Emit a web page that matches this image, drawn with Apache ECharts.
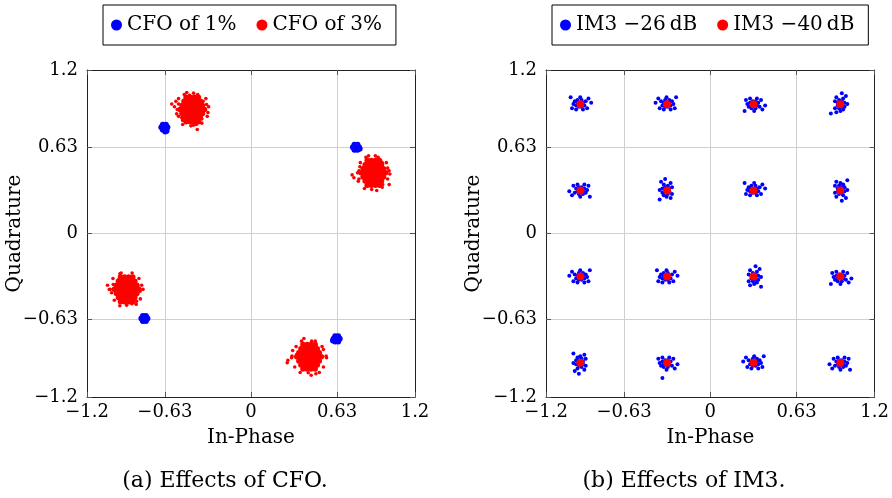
<!DOCTYPE html>
<html><head><meta charset="utf-8">
<script src="https://cdn.jsdelivr.net/npm/echarts@6/dist/echarts.min.js"></script>
<style>html,body{margin:0;padding:0;background:#fff}#c{width:892px;height:498px}</style>
</head><body><div id="c"></div>
<script>
const axisTicks = [-1.2, -0.63, 0, 0.63, 1.2];
const seriesNames = ['CFO of 1%', 'CFO of 3%', 'IM3 \u221226\u2009dB', 'IM3 \u221240\u2009dB'];
const captions = ['(a) Effects of CFO.', '(b) Effects of IM3.'];
const axisNames = ['In-Phase', 'Quadrature'];

// (a) CFO of 1% : tight clusters
const cfo1 = [
 [-0.634,0.780],[-0.612,0.780],[-0.656,0.780],[-0.623,0.799],[-0.645,0.799],[-0.623,0.761],[-0.645,0.761],[-0.627,0.748],[-0.618,0.754],
 [0.768,0.633],[0.790,0.633],[0.746,0.633],[0.757,0.652],[0.779,0.652],[0.757,0.614],[0.779,0.614],[0.795,0.622],
 [-0.780,-0.624],[-0.758,-0.624],[-0.802,-0.624],[-0.769,-0.605],[-0.791,-0.605],[-0.769,-0.643],[-0.791,-0.643],
 [0.627,-0.773],[0.649,-0.773],[0.605,-0.773],[0.616,-0.754],[0.638,-0.754],[0.616,-0.792],[0.638,-0.792],[0.600,-0.785]
];

// (a) CFO of 3% : dense cores of the four clusters
const cfo3Core = [
 [-0.475,1.00],[-0.445,1.00],[-0.415,1.00],[-0.385,1.00],
 [-0.49,0.97],[-0.46,0.97],[-0.43,0.97],[-0.40,0.97],[-0.37,0.97],
 [-0.505,0.94],[-0.475,0.94],[-0.445,0.94],[-0.415,0.94],[-0.385,0.94],[-0.355,0.94],
 [-0.52,0.91],[-0.49,0.91],[-0.46,0.91],[-0.43,0.91],[-0.40,0.91],[-0.37,0.91],[-0.34,0.91],
 [-0.505,0.88],[-0.475,0.88],[-0.445,0.88],[-0.415,0.88],[-0.385,0.88],[-0.355,0.88],
 [-0.49,0.85],[-0.46,0.85],[-0.43,0.85],[-0.40,0.85],[-0.37,0.85],
 [-0.475,0.82],[-0.445,0.82],[-0.415,0.82],[-0.385,0.82],

 [0.85,0.535],[0.88,0.535],[0.91,0.535],[0.94,0.535],
 [0.835,0.505],[0.865,0.505],[0.895,0.505],[0.925,0.505],[0.955,0.505],
 [0.82,0.475],[0.85,0.475],[0.88,0.475],[0.91,0.475],[0.94,0.475],[0.97,0.475],
 [0.805,0.445],[0.835,0.445],[0.865,0.445],[0.895,0.445],[0.925,0.445],[0.955,0.445],[0.985,0.445],
 [0.82,0.415],[0.85,0.415],[0.88,0.415],[0.91,0.415],[0.94,0.415],[0.97,0.415],
 [0.835,0.385],[0.865,0.385],[0.895,0.385],[0.925,0.385],[0.955,0.385],
 [0.85,0.355],[0.88,0.355],[0.91,0.355],[0.94,0.355],

 [-0.955,-0.32],[-0.925,-0.32],[-0.895,-0.32],[-0.865,-0.32],
 [-0.97,-0.35],[-0.94,-0.35],[-0.91,-0.35],[-0.88,-0.35],[-0.85,-0.35],
 [-0.985,-0.38],[-0.955,-0.38],[-0.925,-0.38],[-0.895,-0.38],[-0.865,-0.38],[-0.835,-0.38],
 [-1.0,-0.41],[-0.97,-0.41],[-0.94,-0.41],[-0.91,-0.41],[-0.88,-0.41],[-0.85,-0.41],[-0.82,-0.41],
 [-0.985,-0.44],[-0.955,-0.44],[-0.925,-0.44],[-0.895,-0.44],[-0.865,-0.44],[-0.835,-0.44],
 [-0.97,-0.47],[-0.94,-0.47],[-0.91,-0.47],[-0.88,-0.47],[-0.85,-0.47],
 [-0.955,-0.50],[-0.925,-0.50],[-0.895,-0.50],[-0.865,-0.50],

 [0.38,-0.815],[0.41,-0.815],[0.44,-0.815],[0.47,-0.815],
 [0.365,-0.845],[0.395,-0.845],[0.425,-0.845],[0.455,-0.845],[0.485,-0.845],
 [0.35,-0.875],[0.38,-0.875],[0.41,-0.875],[0.44,-0.875],[0.47,-0.875],[0.50,-0.875],
 [0.335,-0.905],[0.365,-0.905],[0.395,-0.905],[0.425,-0.905],[0.455,-0.905],[0.485,-0.905],[0.515,-0.905],
 [0.35,-0.935],[0.38,-0.935],[0.41,-0.935],[0.44,-0.935],[0.47,-0.935],[0.50,-0.935],
 [0.365,-0.965],[0.395,-0.965],[0.425,-0.965],[0.455,-0.965],[0.485,-0.965],
 [0.38,-0.995],[0.41,-0.995],[0.44,-0.995],[0.47,-0.995]
];

// (a) CFO of 3% : scattered points around the cores
const cfo3Spread = [
 [-0.55,0.97],[-0.56,0.93],[-0.544,0.878],[-0.488,1.02],[-0.45,1.015],[-0.393,0.763],[-0.422,0.795],
 [-0.315,0.888],[-0.325,0.947],[-0.507,0.85],[-0.53,0.95],[-0.35,0.97],[-0.36,0.84],[-0.50,0.83],[-0.42,1.03],[-0.44,0.79],
 [-0.53,0.99],[-0.33,0.99],[-0.32,0.86],[-0.53,0.86],[-0.47,1.035],[-0.39,1.02],[-0.36,0.81],[-0.50,0.80],[-0.54,0.91],[-0.31,0.93],[-0.40,0.80],[-0.58,0.95],

 [0.841,0.56],[0.87,0.536],[0.753,0.409],[0.785,0.384],[1.016,0.437],[1.011,0.359],[0.963,0.359],
 [0.797,0.49],[0.92,0.316],[0.883,0.323],[0.79,0.46],[1.0,0.48],[0.96,0.52],
 [0.80,0.52],[0.99,0.52],[1.00,0.40],[0.79,0.40],[0.86,0.57],[0.93,0.56],[0.96,0.34],[0.83,0.33],[0.78,0.445],[1.01,0.46],[0.91,0.57],[0.74,0.43],

 [-0.959,-0.296],[-1.037,-0.411],[-1.02,-0.435],[-0.91,-0.526],[-0.812,-0.423],[-0.837,-0.497],
 [-1.008,-0.374],[-0.873,-0.516],[-0.97,-0.34],[-0.80,-0.38],
 [-1.01,-0.33],[-0.82,-0.33],[-0.81,-0.48],[-1.00,-0.49],[-0.95,-0.29],[-0.87,-0.29],[-0.84,-0.52],[-0.96,-0.53],[-1.03,-0.41],[-0.79,-0.41],[-1.05,-0.38],

 [0.387,-0.771],[0.265,-0.949],[0.297,-0.912],[0.305,-0.859],[0.475,-1.029],[0.419,-1.022],
 [0.53,-0.851],[0.553,-0.912],[0.444,-0.79],[0.334,-0.888],
 [0.33,-0.83],[0.52,-0.83],[0.53,-0.98],[0.32,-0.98],[0.37,-0.79],[0.47,-0.79],[0.50,-1.02],[0.36,-1.02],[0.30,-0.90],[0.55,-0.90],[0.44,-1.04],[0.27,-0.93]
];

// (b) IM3 -26 dB : scattered 16-QAM clusters
const im3a = [
 [-0.95,0.95],[-0.93,0.96],[-0.97,0.96],[-0.94,0.93],[-0.96,0.93],[-0.92,0.94],[-0.98,0.94],[-0.94,0.98],[-0.97,0.98],[-0.91,0.97],[-0.99,0.97],[-0.93,0.91],[-0.98,0.91],[-0.90,0.92],[-1.00,0.95],[-0.95,1.00],[-0.89,0.99],[-1.01,0.92],[-0.87,0.96],[-1.02,1.00],
 [-0.32,0.95],[-0.34,0.96],[-0.30,0.96],[-0.33,0.93],[-0.31,0.93],[-0.35,0.94],[-0.29,0.94],[-0.33,0.98],[-0.30,0.98],[-0.36,0.97],[-0.28,0.97],[-0.34,0.91],[-0.29,0.91],[-0.37,0.92],[-0.27,0.95],[-0.32,1.00],[-0.38,0.99],[-0.26,0.92],[-0.40,0.96],[-0.25,1.00],
 [0.32,0.95],[0.34,0.94],[0.30,0.94],[0.33,0.97],[0.31,0.97],[0.35,0.96],[0.29,0.96],[0.33,0.92],[0.30,0.92],[0.36,0.93],[0.28,0.93],[0.34,0.99],[0.29,0.99],[0.37,0.98],[0.27,0.95],[0.32,0.90],[0.38,0.91],[0.26,0.98],[0.40,0.94],[0.25,0.90],
 [0.95,0.95],[0.96,0.97],[0.96,0.93],[0.93,0.96],[0.93,0.94],[0.94,0.98],[0.94,0.92],[0.98,0.96],[0.98,0.93],[0.97,0.99],[0.97,0.91],[0.91,0.97],[0.91,0.92],[0.92,1.00],[0.95,0.90],[1.00,0.95],[0.99,1.01],[0.92,0.89],[0.96,1.03],[0.88,0.88],
 [-0.95,0.32],[-0.97,0.31],[-0.93,0.31],[-0.96,0.34],[-0.94,0.34],[-0.98,0.33],[-0.92,0.33],[-0.96,0.29],[-0.93,0.29],[-0.99,0.30],[-0.91,0.30],[-0.97,0.36],[-0.92,0.36],[-1.00,0.35],[-0.90,0.32],[-0.95,0.27],[-1.01,0.28],[-0.89,0.35],[-1.03,0.31],[-0.88,0.27],
 [-0.32,0.32],[-0.33,0.34],[-0.33,0.30],[-0.30,0.33],[-0.30,0.31],[-0.31,0.35],[-0.31,0.29],[-0.35,0.33],[-0.35,0.30],[-0.34,0.36],[-0.34,0.28],[-0.28,0.34],[-0.28,0.29],[-0.29,0.37],[-0.32,0.27],[-0.37,0.32],[-0.36,0.38],[-0.29,0.26],[-0.33,0.40],[-0.37,0.25],
 [0.32,0.32],[0.34,0.33],[0.30,0.33],[0.33,0.30],[0.31,0.30],[0.35,0.31],[0.29,0.31],[0.33,0.35],[0.30,0.35],[0.36,0.34],[0.28,0.34],[0.34,0.28],[0.29,0.28],[0.37,0.29],[0.27,0.32],[0.32,0.37],[0.38,0.36],[0.26,0.29],[0.40,0.33],[0.25,0.37],
 [0.95,0.32],[0.96,0.30],[0.96,0.34],[0.93,0.31],[0.93,0.33],[0.94,0.29],[0.94,0.35],[0.98,0.31],[0.98,0.34],[0.97,0.28],[0.97,0.36],[0.91,0.30],[0.91,0.35],[0.92,0.27],[0.95,0.37],[1.00,0.32],[0.99,0.26],[0.92,0.38],[0.96,0.24],[1.00,0.39],
 [-0.95,-0.32],[-0.97,-0.31],[-0.93,-0.31],[-0.96,-0.34],[-0.94,-0.34],[-0.98,-0.33],[-0.92,-0.33],[-0.96,-0.29],[-0.93,-0.29],[-0.99,-0.30],[-0.91,-0.30],[-0.97,-0.36],[-0.92,-0.36],[-1.00,-0.35],[-0.90,-0.32],[-0.95,-0.27],[-1.01,-0.28],[-0.89,-0.35],[-1.03,-0.31],[-0.88,-0.27],
 [-0.32,-0.32],[-0.30,-0.31],[-0.34,-0.31],[-0.31,-0.34],[-0.33,-0.34],[-0.29,-0.33],[-0.35,-0.33],[-0.31,-0.29],[-0.34,-0.29],[-0.28,-0.30],[-0.36,-0.30],[-0.30,-0.36],[-0.35,-0.36],[-0.27,-0.35],[-0.37,-0.32],[-0.32,-0.27],[-0.26,-0.28],[-0.38,-0.35],[-0.24,-0.31],[-0.39,-0.27],
 [0.32,-0.32],[0.33,-0.30],[0.33,-0.34],[0.30,-0.31],[0.30,-0.33],[0.31,-0.29],[0.31,-0.35],[0.35,-0.31],[0.35,-0.34],[0.34,-0.28],[0.34,-0.36],[0.28,-0.30],[0.28,-0.35],[0.29,-0.27],[0.32,-0.37],[0.37,-0.32],[0.36,-0.26],[0.29,-0.38],[0.33,-0.24],[0.37,-0.39],
 [0.95,-0.32],[0.97,-0.33],[0.93,-0.33],[0.96,-0.30],[0.94,-0.30],[0.98,-0.31],[0.92,-0.31],[0.96,-0.35],[0.93,-0.35],[0.99,-0.34],[0.91,-0.34],[0.97,-0.28],[0.92,-0.28],[1.00,-0.29],[0.90,-0.32],[0.95,-0.37],[1.01,-0.36],[0.89,-0.29],[1.03,-0.33],[0.88,-0.37],
 [-0.95,-0.95],[-0.96,-0.97],[-0.96,-0.93],[-0.93,-0.96],[-0.93,-0.94],[-0.94,-0.98],[-0.94,-0.92],[-0.98,-0.96],[-0.98,-0.93],[-0.97,-0.99],[-0.97,-0.91],[-0.91,-0.97],[-0.91,-0.92],[-0.92,-1.00],[-0.95,-0.90],[-1.00,-0.95],[-0.99,-1.01],[-0.92,-0.89],[-0.96,-1.03],[-1.00,-0.88],
 [-0.32,-0.95],[-0.30,-0.96],[-0.34,-0.96],[-0.31,-0.93],[-0.33,-0.93],[-0.29,-0.94],[-0.35,-0.94],[-0.31,-0.98],[-0.34,-0.98],[-0.28,-0.97],[-0.36,-0.97],[-0.30,-0.91],[-0.35,-0.91],[-0.27,-0.92],[-0.37,-0.95],[-0.32,-1.00],[-0.26,-0.99],[-0.38,-0.92],[-0.24,-0.96],[-0.35,-1.06],
 [0.32,-0.95],[0.30,-0.94],[0.34,-0.94],[0.31,-0.97],[0.33,-0.97],[0.29,-0.96],[0.35,-0.96],[0.31,-0.92],[0.34,-0.92],[0.28,-0.93],[0.36,-0.93],[0.30,-0.99],[0.35,-0.99],[0.27,-0.98],[0.37,-0.95],[0.32,-0.90],[0.26,-0.91],[0.38,-0.98],[0.24,-0.94],[0.39,-0.90],
 [0.95,-0.95],[0.93,-0.96],[0.97,-0.96],[0.94,-0.93],[0.96,-0.93],[0.92,-0.94],[0.98,-0.94],[0.94,-0.98],[0.97,-0.98],[0.91,-0.97],[0.99,-0.97],[0.93,-0.91],[0.98,-0.91],[0.90,-0.92],[1.00,-0.95],[0.95,-1.00],[0.89,-0.99],[1.01,-0.92],[0.87,-0.96],[1.02,-1.00]
];

// (b) IM3 -40 dB : nearly ideal constellation
const im3b = [
 [-0.949,0.949],[-0.316,0.949],[0.316,0.949],[0.949,0.949],
 [-0.949,0.316],[-0.316,0.316],[0.316,0.316],[0.949,0.316],
 [-0.949,-0.316],[-0.316,-0.316],[0.316,-0.316],[0.949,-0.316],
 [-0.949,-0.949],[-0.316,-0.949],[0.316,-0.949],[0.949,-0.949]
];

const FONT = 'DejaVu Serif';
const fmt = v => (v < 0 ? '\u2212' : '') + Math.abs(v);

function xAx(gi, pos) {
  const main = pos === 'bottom';
  return {
    type: 'value', gridIndex: gi, position: pos, min: -1.2, max: 1.2,
    axisLine: { onZero: false, lineStyle: { color: '#222', width: 1 } },
    axisTick: { show: true, inside: true, length: 5, customValues: axisTicks, lineStyle: { color: '#555' } },
    axisLabel: { show: main, customValues: axisTicks, formatter: fmt, fontFamily: FONT, fontSize: 18, color: '#000', margin: 6 },
    splitLine: { show: main, lineStyle: { color: '#cfcfcf', width: 1 } },
    name: main ? axisNames[0] : '', nameLocation: 'middle', nameGap: 31, nameMoveOverlap: false,
    nameTextStyle: { fontFamily: FONT, fontSize: 20, color: '#000' }
  };
}
function yAx(gi, pos) {
  const main = pos === 'left';
  return {
    type: 'value', gridIndex: gi, position: pos, min: -1.2, max: 1.2,
    axisLine: { onZero: false, lineStyle: { color: '#222', width: 1 } },
    axisTick: { show: true, inside: true, length: 5, customValues: axisTicks, lineStyle: { color: '#555' } },
    axisLabel: { show: main, customValues: axisTicks, formatter: fmt, fontFamily: FONT, fontSize: 18, color: '#000', margin: 9 },
    splitLine: { show: main, lineStyle: { color: '#cfcfcf', width: 1 } },
    name: main ? axisNames[1] : '', nameLocation: 'middle', nameGap: 62, nameMoveOverlap: false,
    nameTextStyle: { fontFamily: FONT, fontSize: 20, color: '#000' }
  };
}

const legendBase = {
  orient: 'horizontal', top: 5, icon: 'circle', itemWidth: 11, itemHeight: 11, itemGap: 20,
  borderColor: '#000', borderWidth: 1, padding: [9, 14, 9, 8],
  textStyle: { fontFamily: FONT, fontSize: 20, color: '#000', lineHeight: 22 }
};

const chart = echarts.init(document.getElementById('c'), null, { renderer: 'canvas' });
chart.setOption({
  animation: false,
  backgroundColor: '#fff',
  grid: [
    { left: 87, top: 70, width: 328, height: 327 },
    { left: 546, top: 70, width: 329, height: 327 }
  ],
  xAxis: [xAx(0, 'bottom'), xAx(0, 'top'), xAx(1, 'bottom'), xAx(1, 'top')],
  yAxis: [yAx(0, 'left'), yAx(0, 'right'), yAx(1, 'left'), yAx(1, 'right')],
  legend: [
    Object.assign({}, legendBase, { left: 103, data: [seriesNames[0], seriesNames[1]] }),
    Object.assign({}, legendBase, { left: 552, data: [seriesNames[2], seriesNames[3]] })
  ],
  graphic: [
    { type: 'text', x: 225, y: 481, style: { text: captions[0], fontFamily: FONT, fontSize: 22, fill: '#000', textAlign: 'center', textVerticalAlign: 'middle' } },
    { type: 'text', x: 684, y: 481, style: { text: captions[1], fontFamily: FONT, fontSize: 22, fill: '#000', textAlign: 'center', textVerticalAlign: 'middle' } }
  ],
  series: [
    { name: seriesNames[0], type: 'scatter', xAxisIndex: 0, yAxisIndex: 0, data: cfo1, symbolSize: 6, itemStyle: { color: '#0000ff', opacity: 1 }, silent: true },
    { name: seriesNames[1], type: 'scatter', xAxisIndex: 0, yAxisIndex: 0, data: cfo3Core, symbolSize: 5.5, itemStyle: { color: '#ff0000', opacity: 1 }, silent: true },
    { name: seriesNames[1], type: 'scatter', xAxisIndex: 0, yAxisIndex: 0, data: cfo3Spread, symbolSize: 3.6, itemStyle: { color: '#ff0000', opacity: 1 }, silent: true },
    { name: seriesNames[2], type: 'scatter', xAxisIndex: 2, yAxisIndex: 2, data: im3a, symbolSize: 4, itemStyle: { color: '#0000ff', opacity: 1 }, silent: true },
    { name: seriesNames[3], type: 'scatter', xAxisIndex: 2, yAxisIndex: 2, data: im3b, symbolSize: 8, itemStyle: { color: '#ff0000', opacity: 1 }, silent: true }
  ]
});
</script>
</body></html>
